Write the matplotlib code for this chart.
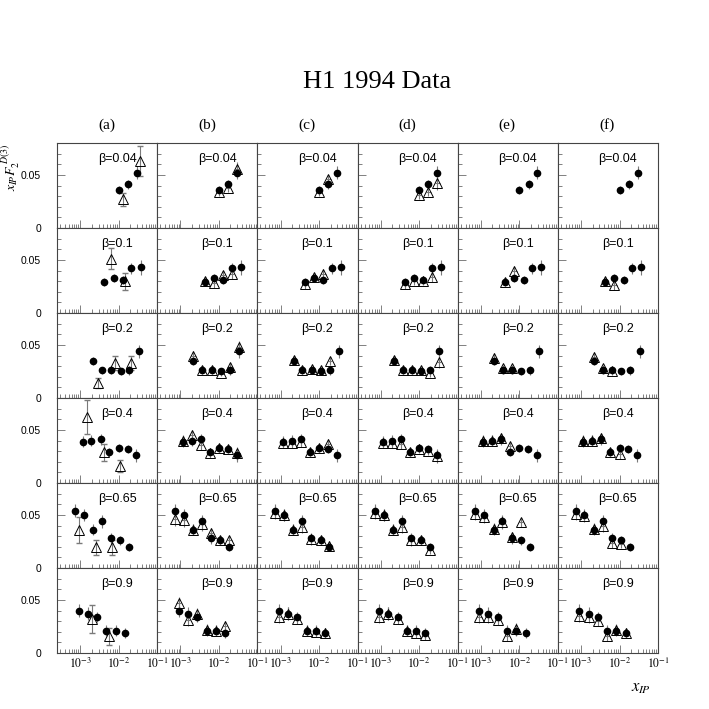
import numpy as np
import matplotlib
matplotlib.use("Agg")
import matplotlib.pyplot as plt
from matplotlib.ticker import FixedLocator, FuncFormatter, LogLocator, NullFormatter

plt.rcParams['font.family'] = ['Liberation Sans', 'DejaVu Sans']
plt.rcParams['mathtext.fontset'] = 'stix'

nan = np.nan
betas = ["0.04", "0.1", "0.2", "0.4", "0.65", "0.9"]
columns = ["(a)", "(b)", "(c)", "(d)", "(e)", "(f)"]

# x_IP bin centres per beta row
x_bins = [
    [0.0100, 0.0174, 0.0295],
    [0.00427, 0.00741, 0.0129, 0.0214, 0.0372],
    [0.00219, 0.00372, 0.00646, 0.0112, 0.0191, 0.0331],
    [0.00115, 0.00195, 0.00339, 0.00575, 0.0100, 0.0170, 0.0288],
    [0.000724, 0.00123, 0.00214, 0.00363, 0.00631, 0.0110, 0.0186],
    [0.000912, 0.00158, 0.00275, 0.00479, 0.00832, 0.0145],
]

# H1 1994 data (filled circles), identical in every column
data_vals = [
    [0.036, 0.041, 0.052],
    [0.029, 0.033, 0.031, 0.042, 0.043],
    [0.035, 0.026, 0.026, 0.025, 0.026, 0.044],
    [0.039, 0.040, 0.041, 0.029, 0.033, 0.032, 0.026],
    [0.054, 0.050, 0.036, 0.044, 0.028, 0.026, 0.020],
    [0.040, 0.037, 0.034, 0.021, 0.021, 0.019],
]
data_errs = [
    [0.004, 0.004, 0.006],
    [0.004, 0.004, 0.004, 0.005, 0.007],
    [0.004, 0.003, 0.003, 0.003, 0.004, 0.006],
    [0.005, 0.005, 0.005, 0.004, 0.004, 0.004, 0.006],
    [0.006, 0.006, 0.005, 0.006, 0.005, 0.004, 0.004],
    [0.006, 0.006, 0.005, 0.005, 0.005, 0.005],
]

# column (a): open triangles with their own binning
a_tri_x = [
    [0.0133, 0.0363],
    [0.0063, 0.0148],
    [0.00282, 0.0081, 0.0211],
    [0.00148, 0.00407, 0.0110],
    [0.00093, 0.00263, 0.0069],
    [0.00204, 0.0055],
]
a_tri_vals = [
    [0.027, 0.063],
    [0.051, 0.030],
    [0.014, 0.033, 0.033],
    [0.062, 0.029, 0.016],
    [0.036, 0.0195, 0.0195],
    [0.032, 0.016],
]
a_tri_errs = [
    [0.006, 0.014],
    [0.010, 0.008],
    [0.005, 0.007, 0.007],
    [0.016, 0.008, 0.006],
    [0.012, 0.007, 0.007],
    [0.013, 0.008],
]

# columns (b)-(f): open triangles on the data binning
tri_b = [
    [0.034, 0.038, 0.056],
    [0.030, 0.028, 0.036, 0.037, nan],
    [0.040, 0.026, 0.026, 0.024, 0.029, 0.048],
    [0.040, 0.045, 0.036, 0.028, 0.033, 0.032, 0.028],
    [0.046, 0.045, 0.036, 0.041, 0.033, 0.026, 0.026],
    [0.047, 0.031, 0.037, 0.022, 0.021, 0.025],
]
tri_c = [
    [0.034, 0.046, nan],
    [0.027, 0.034, 0.037, nan, nan],
    [0.036, 0.026, 0.027, 0.026, 0.035, nan],
    [0.038, 0.038, 0.039, 0.029, 0.033, 0.037, nan],
    [0.052, 0.050, 0.036, 0.039, 0.027, 0.026, 0.021],
    [0.034, 0.037, 0.032, 0.021, 0.020, 0.019],
]
tri_d = [
    [0.031, 0.034, 0.042],
    [0.027, 0.030, 0.030, 0.034, nan],
    [0.036, 0.026, 0.026, 0.026, 0.024, 0.034],
    [0.038, 0.038, 0.037, 0.029, 0.032, 0.030, 0.025],
    [0.052, 0.050, 0.036, 0.039, 0.026, 0.026, 0.017],
    [0.034, 0.037, 0.032, 0.021, 0.019, 0.017],
]
tri_e = [
    [nan, nan, nan],
    [0.029, 0.040, nan, nan, nan],
    [0.038, 0.028, 0.028, nan, nan, nan],
    [0.040, 0.040, 0.042, 0.035, nan, nan, nan],
    [0.051, 0.048, 0.037, 0.043, 0.029, 0.043, nan],
    [0.034, 0.034, 0.031, 0.016, 0.023, nan],
]
tri_f = [
    [nan, nan, nan],
    [0.030, 0.026, nan, nan, nan],
    [0.039, 0.028, 0.025, nan, nan, nan],
    [0.040, 0.040, 0.042, 0.029, 0.027, nan, nan],
    [0.051, 0.049, 0.037, 0.040, 0.024, 0.023, nan],
    [0.035, 0.034, 0.030, 0.016, 0.022, 0.019],
]
tri_cols = [None, tri_b, tri_c, tri_d, tri_e, tri_f]

W = H = 709
fig = plt.figure(figsize=(W / 100, H / 100), dpi=100)
gs = fig.add_gridspec(6, 6, left=57 / W, right=658 / W, top=1 - 143 / H,
                      bottom=1 - 653 / H, wspace=0, hspace=0)

ecol = '#7a7a7a'
dx = 10 ** 0.06


def xerr_of(x):
    x = np.asarray(x)
    return [x - x / dx, x * dx - x]


def fmt_log(v, pos):
    e = int(round(np.log10(v)))
    return r'$10^{%d}$' % e


for r in range(6):
    for c in range(6):
        ax = fig.add_subplot(gs[r, c])
        ax.set_xscale('log')
        ax.set_xlim(2.5e-4, 0.1)
        ax.set_ylim(0, 0.08)
        for s in ax.spines.values():
            s.set_color('#444444')
            s.set_linewidth(0.8)
        xb = np.array(x_bins[r])
        # data
        ax.errorbar(xb, data_vals[r], yerr=data_errs[r], xerr=xerr_of(xb),
                    fmt='none', ecolor=ecol, elinewidth=0.8, zorder=2)
        ax.plot(xb, data_vals[r], 'o', color='black', ms=4.5, zorder=4)
        # triangles
        if c == 0:
            tx = np.array(a_tri_x[r])
            ax.errorbar(tx, a_tri_vals[r], yerr=a_tri_errs[r], fmt='none',
                        ecolor=ecol, elinewidth=0.8, capsize=2.5, zorder=2)
            ax.plot(tx, a_tri_vals[r], '^', mfc='none', mec='black',
                    mew=0.7, ms=7, zorder=3)
        else:
            tv = np.array(tri_cols[c][r], dtype=float)
            m = ~np.isnan(tv)
            if m.any():
                te = np.array(data_errs[r])[m]
                ax.errorbar(xb[m], tv[m], yerr=te, xerr=xerr_of(xb[m]),
                            fmt='none', ecolor=ecol, elinewidth=0.8, zorder=2)
                ax.plot(xb[m], tv[m], '^', mfc='none', mec='black',
                        mew=0.7, ms=7, zorder=3)
        ax.text(0.6, 0.81, "β=" + betas[r], transform=ax.transAxes,
                ha='center', va='center', fontsize=9)
        # ticks
        ax.xaxis.set_major_locator(LogLocator(base=10, numticks=10))
        ax.xaxis.set_minor_locator(LogLocator(base=10, subs=np.arange(2, 10), numticks=20))
        ax.xaxis.set_minor_formatter(NullFormatter())
        ax.yaxis.set_major_locator(FixedLocator([0, 0.05]))
        ax.yaxis.set_minor_locator(FixedLocator([0.01, 0.02, 0.03, 0.04, 0.06, 0.07]))
        ax.tick_params(which='both', direction='in', top=False, right=False,
                       color='#808080', width=0.7)
        ax.tick_params(which='major', length=6)
        ax.tick_params(which='minor', length=3)
        if r == 5:
            ax.xaxis.set_major_formatter(FuncFormatter(fmt_log))
            ax.tick_params(axis='x', labelsize=8.5, pad=3)
        else:
            ax.xaxis.set_major_formatter(NullFormatter())
        if c == 0:
            ax.yaxis.set_major_formatter(FuncFormatter(lambda v, p: "0" if v == 0 else "%.2f" % v))
            ax.tick_params(axis='y', labelsize=7.5, pad=11.5)
        else:
            ax.yaxis.set_major_formatter(NullFormatter())

fig.text(377 / W, 1 - 82 / H, "H1 1994 Data", ha='center', va='center',
         fontsize=19, family='Liberation Serif')
for c in range(6):
    fig.text((107 + 100 * c) / W, 1 - 125 / H, columns[c], ha='center',
             va='center', fontsize=11, family='Liberation Serif')
fig.text(11 / W, 1 - 167 / H, r'$x_{I\!P}F_2^{\ D(3)}$', rotation=90,
         ha='center', va='center', fontsize=10)
fig.text(641 / W, 1 - 688 / H, r'$x_{I\!P}$', ha='center', va='center', fontsize=12)

fig.savefig('out.png', dpi=100)
